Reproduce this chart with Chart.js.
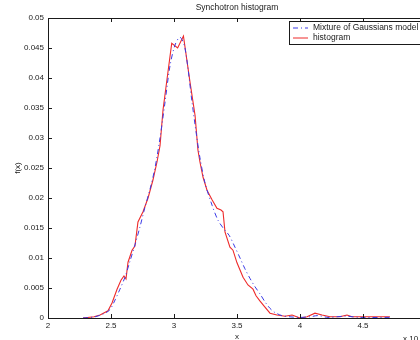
<!DOCTYPE html>
<html>
<head>
<meta charset="utf-8">
<title>Synchotron histogram</title>
<script src="https://cdn.jsdelivr.net/npm/chart.js@4/dist/chart.umd.min.js"></script>
<style>
  html, body { margin: 0; padding: 0; background: #fff; overflow: hidden; }
  #wrap { width: 420px; height: 340px; overflow: hidden; }
</style>
</head>
<body>
<div id="wrap">
  <canvas id="chart" width="474" height="346"></canvas>
</div>
<script>
// x in units of 10^4
const histX = [2.278, 2.365, 2.413, 2.476, 2.508, 2.548, 2.579, 2.603, 2.619, 2.635,
    2.667, 2.690, 2.714, 2.754, 2.794, 2.833, 2.865, 2.889, 2.913, 2.944,
    2.982, 3.029, 3.075, 3.127, 3.167, 3.190, 3.206, 3.230, 3.262, 3.302,
    3.341, 3.373, 3.389, 3.405, 3.444, 3.468, 3.500, 3.548, 3.587, 3.627,
    3.651, 3.683, 3.722, 3.762, 3.817, 3.881, 3.937, 4.000, 4.056, 4.119,
    4.175, 4.238, 4.317, 4.373, 4.413, 4.556, 4.714];
const histY = [0, 0.0002, 0.0005, 0.0012, 0.0025, 0.0048, 0.0063, 0.0070, 0.0065, 0.0093,
    0.0113, 0.0120, 0.0160, 0.0177, 0.0200, 0.0230, 0.0260, 0.0287, 0.0347, 0.0397,
    0.0458, 0.0450, 0.0470, 0.0393, 0.0338, 0.0280, 0.0260, 0.0235, 0.0213, 0.0197,
    0.0183, 0.0180, 0.0177, 0.0143, 0.0118, 0.0113, 0.0092, 0.0068, 0.0055, 0.0048,
    0.0037, 0.0028, 0.0018, 0.0008, 0.0005, 0.0003, 0.0005, 0.0000, 0.0002, 0.0008,
    0.0005, 0.0002, 0.0002, 0.0005, 0.0002, 0.0002, 0.0002];

const modelX = [2.278, 2.373, 2.452, 2.492, 2.532, 2.571, 2.611, 2.651, 2.690, 2.730,
    2.770, 2.810, 2.849, 2.889, 2.929, 2.968, 3.008, 3.048, 3.087, 3.143,
    3.175, 3.206, 3.246, 3.302, 3.349, 3.397, 3.437, 3.484, 3.524, 3.563,
    3.603, 3.643, 3.683, 3.722, 3.762, 3.802, 3.857, 3.921, 4.000, 4.079,
    4.143, 4.222, 4.357, 4.476, 4.714];
const modelY = [0, 0.0002, 0.0008, 0.0014, 0.0030, 0.0048, 0.0068, 0.0095, 0.0122, 0.0152,
    0.0185, 0.0215, 0.0250, 0.0300, 0.0360, 0.0420, 0.0455, 0.0468, 0.0450, 0.0360,
    0.0310, 0.0267, 0.0225, 0.0188, 0.0163, 0.0148, 0.0138, 0.0118, 0.0100, 0.0082,
    0.0066, 0.0052, 0.0040, 0.0027, 0.0016, 0.0009, 0.0004, 0.0002, 0.0001, 0.0002,
    0.0004, 0.0001, 0.0003, 0.0001, 0.0001];

const xMin = 2, xMax = 5, xStep = 0.5;
const yMin = 0, yMax = 0.05, yStep = 0.005;

const FONT = "'Liberation Sans', Arial, Helvetica, sans-serif";
const INK = '#1a1a1a';

const toPoints = (xs, ys) => xs.map((x, i) => ({ x: x, y: ys[i] }));

// box round the plot plus inward ticks, like the original figure
const framePlugin = {
    id: 'frame',
    afterDatasetsDraw(chart) {
        const { ctx, chartArea: a, scales } = chart;
        const len = 4;
        ctx.save();
        ctx.strokeStyle = INK;
        ctx.lineWidth = 1;
        ctx.beginPath();
        ctx.rect(Math.round(a.left) + 0.5, Math.round(a.top) + 0.5,
            Math.round(a.right - a.left), Math.round(a.bottom - a.top));
        scales.x.ticks.forEach(t => {
            const px = Math.round(scales.x.getPixelForValue(t.value)) + 0.5;
            ctx.moveTo(px, a.bottom); ctx.lineTo(px, a.bottom - len);
            ctx.moveTo(px, a.top); ctx.lineTo(px, a.top + len);
        });
        scales.y.ticks.forEach(t => {
            const py = Math.round(scales.y.getPixelForValue(t.value)) + 0.5;
            ctx.moveTo(a.left, py); ctx.lineTo(a.left + len, py);
            ctx.moveTo(a.right, py); ctx.lineTo(a.right - len, py);
        });
        ctx.stroke();

        // exponent of the x axis
        ctx.fillStyle = INK;
        ctx.font = '8px ' + FONT;
        ctx.textBaseline = 'middle';
        ctx.fillText('x 10', a.right - 23, a.bottom + 21);
        ctx.font = '6px ' + FONT;
        ctx.fillText('4', a.right - 6, a.bottom + 17);
        ctx.restore();
    }
};

// legend drawn inside the axes, top right
const boxLegendPlugin = {
    id: 'boxLegend',
    afterDraw(chart) {
        const { ctx } = chart;
        const sets = chart.data.datasets;
        const x0 = 289, y0 = 21, rowH = 10;
        ctx.save();
        ctx.font = '8.5px ' + FONT;
        const textW = Math.max(...sets.map(d => ctx.measureText(d.label).width));
        const w = 24 + textW + 4, h = sets.length * rowH + 3;
        ctx.fillStyle = '#fff';
        ctx.fillRect(x0, y0, w, h);
        ctx.strokeStyle = INK;
        ctx.lineWidth = 1;
        ctx.setLineDash([]);
        ctx.strokeRect(x0 + 0.5, y0 + 0.5, w, h);
        sets.forEach((d, i) => {
            const cy = y0 + 7 + i * rowH;
            ctx.beginPath();
            ctx.strokeStyle = d.borderColor;
            ctx.setLineDash(d.borderDash || []);
            ctx.moveTo(x0 + 4, cy);
            ctx.lineTo(x0 + 19, cy);
            ctx.stroke();
            ctx.setLineDash([]);
            ctx.fillStyle = INK;
            ctx.textBaseline = 'middle';
            ctx.fillText(d.label, x0 + 24, cy);
        });
        ctx.restore();
    }
};

new Chart(document.getElementById('chart'), {
    type: 'scatter',
    data: {
        datasets: [
            {
                label: 'Mixture of Gaussians model',
                data: toPoints(modelX, modelY),
                showLine: true,
                borderColor: '#3a3ae6',
                borderWidth: 1,
                borderDash: [5, 3, 1, 3],
                pointRadius: 0,
                tension: 0.3
            },
            {
                label: 'histogram',
                data: toPoints(histX, histY),
                showLine: true,
                borderColor: '#ee2a2a',
                borderWidth: 1.1,
                pointRadius: 0,
                tension: 0
            }
        ]
    },
    options: {
        responsive: false,
        devicePixelRatio: 1,
        animation: false,
        layout: { padding: 0 },
        plugins: {
            legend: { display: false },
            tooltip: { enabled: false },
            title: {
                display: true,
                text: 'Synchotron histogram',
                color: INK,
                font: { family: FONT, size: 8.5, weight: 'normal' },
                padding: { top: 3, bottom: 4.8 }
            }
        },
        scales: {
            x: {
                type: 'linear',
                min: xMin,
                max: xMax,
                grid: { display: false, drawTicks: false },
                border: { display: true, color: INK, width: 1 },
                ticks: {
                    stepSize: xStep,
                    padding: 3,
                    color: INK,
                    maxRotation: 0,
                    font: { family: FONT, size: 8 },
                    callback: v => String(+v.toFixed(1))
                },
                title: {
                    display: true,
                    text: 'x',
                    color: INK,
                    font: { family: FONT, size: 8 },
                    padding: { top: 0, bottom: 4 }
                },
                afterFit: s => { s.height = 28; }
            },
            y: {
                type: 'linear',
                min: yMin,
                max: yMax,
                grid: { display: false, drawTicks: false },
                border: { display: true, color: INK, width: 1 },
                ticks: {
                    stepSize: yStep,
                    padding: 4,
                    color: INK,
                    font: { family: FONT, size: 8 },
                    callback: v => String(+v.toFixed(3))
                },
                title: {
                    display: true,
                    text: 'f(x)',
                    color: INK,
                    font: { family: FONT, size: 8 },
                    padding: { top: 13, bottom: 0 }
                },
                afterFit: s => { s.width = 48; }
            },
            // empty right-hand axis, keeps the plot box symmetric like the original
            yRight: {
                type: 'linear',
                position: 'right',
                min: yMin,
                max: yMax,
                grid: { display: false, drawTicks: false },
                border: { display: false },
                ticks: { display: false },
                afterFit: s => { s.width = 48; }
            }
        }
    },
    plugins: [framePlugin, boxLegendPlugin]
});
</script>
</body>
</html>
